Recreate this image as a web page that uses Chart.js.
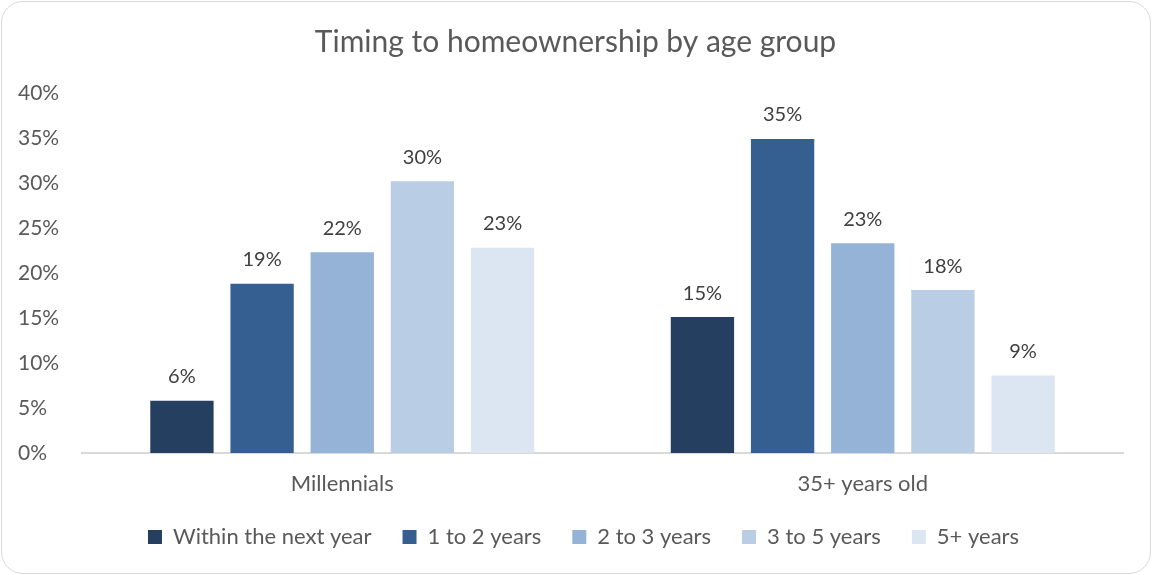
<!DOCTYPE html>
<html>
<head>
<meta charset="utf-8">
<script src="https://cdn.jsdelivr.net/npm/chart.js@4/dist/chart.umd.min.js"></script>
<style>
  html, body { margin: 0; padding: 0; background: #fff; }
  #wrap {
    position: absolute; left: 1px; top: 1px;
    width: 1148px; height: 571px;
    border: 1px solid #d9d9d9; border-radius: 22px;
    background: #fff; overflow: hidden;
  }
</style>
</head>
<body>
<div id="wrap"><canvas id="homes"></canvas></div>
<script>
// age groups on the x axis
const groups = ['Millennials', '35+ years old']

// share of respondents, per timing bucket (%)
const withinYear = [5.8, 15.1]
const oneToTwo = [18.8, 34.9]
const twoToThree = [22.3, 23.3]
const threeToFive = [30.2, 18.1]
const fivePlus = [22.8, 8.6]

const seriesNames = ['Within the next year', '1 to 2 years', '2 to 3 years', '3 to 5 years', '5+ years']
const seriesColors = ['#243f60', '#355f91', '#95b3d7', '#b9cde5', '#dce6f2']
const yTicks = [0, 5, 10, 15, 20, 25, 30, 35, 40]

const FONT = 'Lato, "Open Sans", sans-serif'
const TEXT = '#595959'

// value labels above each bar
const barLabels = {
  id: 'barLabels',
  afterDatasetsDraw (chart) {
    const ctx = chart.ctx
    ctx.save()
    ctx.font = '20px ' + FONT
    ctx.fillStyle = '#404040'
    ctx.textAlign = 'center'
    ctx.textBaseline = 'middle'
    chart.data.datasets.forEach((ds, i) => {
      chart.getDatasetMeta(i).data.forEach((bar, j) => {
        ctx.fillText(Math.round(ds.data[j]) + '%', bar.x, bar.y - 24)
      })
    })
    ctx.restore()
  }
}

// wide gaps between legend items, but keep the legend box short,
// and center title + legend on the whole canvas rather than the padded box
const boxTweaks = {
  id: 'boxTweaks',
  afterInit (chart) {
    const legend = chart.legend
    const fit = legend.fit.bind(legend)
    legend.fit = function () {
      fit()
      this.height = 53
    }
  },
  afterLayout (chart) {
    chart.legend.left += 13
    chart.legend.right += 13
    chart.legend.top -= 3
    chart.titleBlock.left += 5
    chart.titleBlock.right += 5
  }
}

const allSeries = [withinYear, oneToTwo, twoToThree, threeToFive, fivePlus]

new Chart(document.getElementById('homes'), {
  type: 'bar',
  data: {
    labels: groups,
    datasets: allSeries.map((data, i) => ({
      label: seriesNames[i],
      data,
      backgroundColor: seriesColors[i],
      categoryPercentage: 0.77,
      barPercentage: 0.79
    }))
  },
  plugins: [barLabels, boxTweaks],
  options: {
    responsive: true,
    maintainAspectRatio: false,
    animation: false,
    layout: { padding: { left: 16, right: 27, top: 22, bottom: 22 } },
    plugins: {
      title: {
        display: true,
        text: 'Timing to homeownership by age group',
        color: TEXT,
        font: { family: FONT, size: 30, weight: 'normal' },
        padding: { top: 0, bottom: 33 }
      },
      legend: {
        position: 'bottom',
        labels: {
          color: TEXT,
          font: { family: FONT, size: 22 },
          boxWidth: 14,
          boxHeight: 14,
          padding: 31
        }
      },
      tooltip: { enabled: false }
    },
    scales: {
      x: {
        afterFit: axis => { axis.height = 45 },
        grid: { display: false },
        border: { display: true, color: '#d9d9d9', width: 2 },
        ticks: { color: TEXT, font: { family: FONT, size: 22 }, padding: 10 }
      },
      y: {
        min: 0,
        max: 40,
        afterBuildTicks: axis => { axis.ticks = yTicks.map(v => ({ value: v })) },
        afterFit: axis => { axis.width = 64 },
        grid: { display: false },
        border: { display: false },
        ticks: {
          color: TEXT,
          font: { family: FONT, size: 21 },
          crossAlign: 'far',
          padding: 22,
          callback: v => v + '%'
        }
      }
    }
  }
})
</script>
</body>
</html>
